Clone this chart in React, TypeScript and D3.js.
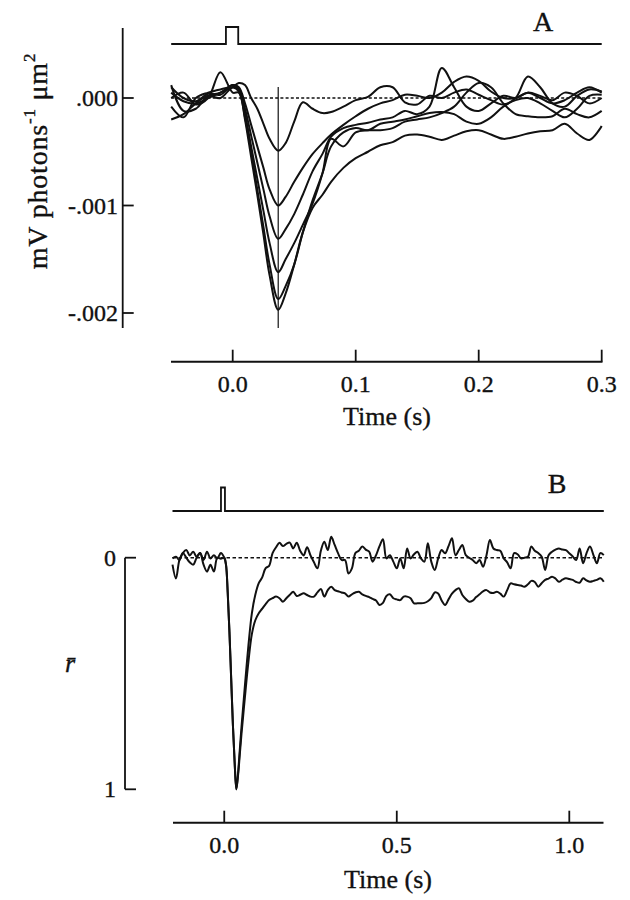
import React from "react";
import * as d3 from "d3";

// ---------- Panel A data (response in units of 1e-3 mV photons^-1 µm^2) ----------
const TIME_A = [-0.05, -0.04, -0.03, -0.02, -0.01, 0, 0.005, 0.01, 0.015, 0.02, 0.025, 0.03, 0.037,
  0.043, 0.05, 0.057, 0.065, 0.073, 0.08, 0.09, 0.1, 0.11, 0.12, 0.13, 0.14, 0.15, 0.16, 0.17, 0.18,
  0.19, 0.2, 0.21, 0.22, 0.23, 0.24, 0.25, 0.26, 0.27, 0.28, 0.29, 0.3];

const A_TRACE1 = [0.05, -0.03, -0.05, 0.0, 0.05, 0.1, 0.14, 0.12, 0.0, -0.1, -0.24, -0.38, -0.49,
  -0.42, -0.22, -0.04, -0.1, -0.14, -0.13, -0.08, -0.02, 0.01, 0.1, 0.1, -0.04, -0.06, 0.02, 0.0, 0.05,
  0.08, 0.03, -0.02, -0.06, 0.0, 0.2, 0.1, -0.05, -0.08, 0.02, 0.08, 0.06];
const A_TRACE2 = [0.12, -0.12, -0.1, 0.02, 0.05, 0.12, 0.1, -0.05, -0.25, -0.45, -0.65, -0.85, -1.0,
  -0.92, -0.78, -0.65, -0.52, -0.42, -0.34, -0.25, -0.17, -0.1, -0.05, -0.02, 0.03, 0.02, 0.0, 0.05, 0.15,
  0.2, 0.16, 0.06, 0.0, 0.0, 0.05, 0.0, -0.05, -0.02, 0.05, 0.1, 0.05];
const A_TRACE3 = [-0.2, -0.15, -0.05, 0.02, 0.0, 0.1, 0.08, -0.1, -0.35, -0.6, -0.85, -1.1, -1.31,
  -1.22, -1.08, -0.9, -0.68, -0.52, -0.36, -0.28, -0.25, -0.23, -0.2, -0.18, -0.12, -0.15, -0.08, 0.28, 0.1,
  -0.08, -0.12, -0.05, 0.02, 0.0, 0.05, 0.02, -0.02, 0.05, 0.02, -0.05, 0.0];
const A_TRACE4 = [0.0, 0.05, -0.06, 0.0, 0.24, 0.05, 0.05, -0.15, -0.45, -0.75, -1.05, -1.35, -1.62,
  -1.5, -1.35, -1.18, -0.98, -0.7, -0.38, -0.45, -0.32, -0.3, -0.3, -0.28, -0.22, -0.2, -0.18, -0.14, -0.08,
  0.05, 0.14, 0.1, -0.05, -0.15, -0.17, -0.18, -0.17, -0.1, -0.15, -0.18, -0.12];
const A_TRACE5 = [-0.08, -0.18, 0.0, 0.05, 0.08, 0.1, 0.06, -0.18, -0.5, -0.85, -1.2, -1.55, -1.87,
  -1.75, -1.55, -1.25, -0.95, -0.7, -0.45, -0.32, -0.28, -0.3, -0.24, -0.22, -0.2, -0.17, -0.14, -0.13, -0.15,
  -0.22, -0.24, -0.18, -0.08, -0.02, 0.0, -0.05, -0.12, -0.18, -0.1, 0.02, 0.03];
const A_TRACE6 = [0.1, 0.0, -0.03, 0.04, 0.03, 0.12, 0.08, -0.2, -0.55, -0.9, -1.27, -1.65, -1.97,
  -1.82, -1.55, -1.25, -1.02, -0.9, -0.78, -0.65, -0.56, -0.5, -0.44, -0.41, -0.35, -0.34, -0.36, -0.39, -0.35,
  -0.31, -0.3, -0.34, -0.38, -0.36, -0.33, -0.31, -0.3, -0.24, -0.33, -0.39, -0.26];
const A_TRACES = [A_TRACE1, A_TRACE2, A_TRACE3, A_TRACE4, A_TRACE5, A_TRACE6];

const A_X_TICKS = [0, 0.1, 0.2, 0.3];
const A_X_TICK_LABELS = ["0.0", "0.1", "0.2", "0.3"];
const A_Y_TICKS = [0, -1, -2];
const A_Y_TICK_LABELS = [".000", "-.001", "-.002"];
const A_PEAK_TIME = 0.037;
const A_STIM_TIME = [-0.05, -0.0055, -0.0055, 0.0045, 0.0045, 0.3];
const A_STIM_LEVEL = [0, 0, 1, 1, 0, 0];

// ---------- Panel B data (normalised response r̄) ----------
const TIME_B = [
  ...d3.range(-15, 0).map((i) => i / 100),
  0, 0.005, 0.01, 0.015, 0.02, 0.025, 0.03, 0.035, 0.04, 0.045, 0.05, 0.055, 0.06,
  ...d3.range(7, 111).map((i) => i / 100),
];

const B_TRACE1 = [
  0.03, 0.09, 0.01, -0.02, -0.033, -0.01, -0.026, -0.004, -0.02, 0.01, -0.026, 0.003, -0.011, 0.003, -0.02,
  0.0, 0.03, 0.15, 0.32, 0.52, 0.72, 0.88, 1.0, 0.93, 0.83, 0.73, 0.64, 0.55,
  0.38, 0.24, 0.16, 0.11, 0.085, 0.045, 0.035, -0.02, -0.045, -0.065,
  -0.05, -0.06, -0.065, -0.04, -0.065, -0.03, -0.01, -0.045, -0.01, 0.02,
  0.046, -0.03, -0.069, -0.033, -0.09, -0.055, -0.019, 0.01, 0.01, 0.068,
  0.046, -0.02, -0.03, -0.048, -0.035, -0.026, 0.017, -0.011, -0.05, -0.08,
  0.003, -0.011, 0.017, 0.046, 0.003, 0.046, -0.04, 0.003, -0.015, -0.026,
  0.003, 0.017, -0.062, 0.017, 0.053, 0.003, -0.033, -0.019, -0.05, -0.084,
  -0.011, -0.033, -0.055, -0.011, 0.0, 0.01, 0.024, 0.01, 0.039, -0.011,
  -0.076, -0.04, -0.033, -0.03, 0.003, 0.02, 0.046, -0.02, -0.015, 0.003,
  0.0, -0.004, -0.048, -0.03, -0.02, -0.004, 0.053, -0.011, -0.026, -0.035,
  -0.04, -0.035, -0.033, -0.019, -0.005, 0.01, -0.04, 0.024, -0.02, -0.048,
  -0.011, 0.024, -0.02, -0.011,
];
const B_TRACE2 = [
  0.003, -0.004, 0.01, -0.02, 0.0, 0.02, 0.03, 0.0, -0.02, 0.03, 0.06, 0.03, 0.06, 0.0, 0.005,
  0.0, 0.03, 0.15, 0.32, 0.52, 0.72, 0.88, 1.0, 0.94, 0.85, 0.76, 0.68, 0.6,
  0.45, 0.33, 0.27, 0.24, 0.22, 0.2, 0.183, 0.175, 0.168, 0.175,
  0.19, 0.175, 0.16, 0.147, 0.165, 0.16, 0.154, 0.161, 0.168, 0.168,
  0.15, 0.135, 0.168, 0.14, 0.125, 0.14, 0.145, 0.15, 0.154, 0.168,
  0.158, 0.15, 0.147, 0.158, 0.165, 0.17, 0.178, 0.185, 0.204, 0.195,
  0.165, 0.158, 0.175, 0.18, 0.183, 0.168, 0.168, 0.175, 0.197, 0.197,
  0.197, 0.195, 0.188, 0.175, 0.15, 0.155, 0.185, 0.204, 0.18, 0.155,
  0.14, 0.132, 0.161, 0.178, 0.19, 0.185, 0.17, 0.158, 0.145, 0.14,
  0.15, 0.152, 0.147, 0.155, 0.168, 0.14, 0.111, 0.115, 0.118, 0.12,
  0.125, 0.115, 0.1, 0.105, 0.125, 0.11, 0.096, 0.09, 0.082, 0.09,
  0.104, 0.095, 0.089, 0.092, 0.096, 0.105, 0.108, 0.089, 0.098, 0.104,
  0.1, 0.096, 0.089, 0.104,
];
const B_TRACES = [B_TRACE1, B_TRACE2];

const B_X_TICKS = [0, 0.5, 1.0];
const B_X_TICK_LABELS = ["0.0", "0.5", "1.0"];
const B_Y_TICKS = [0, 1];
const B_Y_TICK_LABELS = ["0", "1"];
const B_STIM_TIME = [-0.15, -0.0095, -0.0095, 0.002, 0.002, 1.1];
const B_STIM_LEVEL = [0, 0, 1, 1, 0, 0];

const FONT = "'Liberation Serif', 'Times New Roman', serif";
const INK = "#111";
const TXT = { fill: INK, stroke: INK, strokeWidth: 0.35 };

export default function App() {
  // Panel A scales
  const xA = d3.scaleLinear().domain([-0.05, 0.3]).range([171.2, 601.7]);
  const yA = d3.scaleLinear().domain([0, -2]).range([98, 313]);
  const sA = d3.scaleLinear().domain([0, 1]).range([44, 27]);
  // Panel B scales
  const xB = d3.scaleLinear().domain([-0.15, 1.1]).range([172.5, 603.8]);
  const yB = d3.scaleLinear().domain([0, 1]).range([557.7, 789.3]);
  const sB = d3.scaleLinear().domain([0, 1]).range([511, 487.5]);

  const lineA = d3
    .line<number>()
    .x((_, i) => xA(TIME_A[i]))
    .y((d) => yA(d))
    .curve(d3.curveCatmullRom.alpha(0.5));
  const lineB = d3
    .line<number>()
    .x((_, i) => xB(TIME_B[i]))
    .y((d) => yB(d))
    .curve(d3.curveCatmullRom.alpha(0.5));
  const stimA = d3
    .line<number>()
    .x((_, i) => xA(A_STIM_TIME[i]))
    .y((d) => sA(d));
  const stimB = d3
    .line<number>()
    .x((_, i) => xB(B_STIM_TIME[i]))
    .y((d) => sB(d));

  const axisA_x = 122.7;
  const axisA_y = 361.7;
  const axisB_x = 125;
  const axisB_y = 822.7;

  return (
    <svg
      width={630}
      height={900}
      style={{ position: "absolute", left: 0, top: 0, background: "#fff" }}
      fontFamily={FONT}
    >
      <rect x={0} y={0} width={630} height={900} fill="#fff" />

      {/* ================= Panel A ================= */}
      <path d={stimA(A_STIM_LEVEL) || ""} fill="none" stroke={INK} strokeWidth={1.8} />
      <text x={543} y={31} fontSize={28} textAnchor="middle" {...TXT}>A</text>

      {/* y axis */}
      <line x1={axisA_x} x2={axisA_x} y1={28} y2={328} stroke={INK} strokeWidth={1.8} />
      {A_Y_TICKS.map((t, i) => (
        <g key={"ayt" + i}>
          <line x1={axisA_x} x2={axisA_x + 11} y1={yA(t)} y2={yA(t)} stroke={INK} strokeWidth={1.8} />
          <text x={118} y={yA(t)} dy="0.34em" fontSize={24} textAnchor="end" {...TXT}>
            {A_Y_TICK_LABELS[i]}
          </text>
        </g>
      ))}
      <text
        transform="translate(47,161) rotate(-90)"
        fontSize={28}
        letterSpacing={0.8}
        textAnchor="middle"
        {...TXT}
      >
        mV photons
        <tspan fontSize={17} dy={-12}>-1</tspan>
        <tspan dy={12}> μm</tspan>
        <tspan fontSize={17} dy={-12}>2</tspan>
      </text>

      {/* baseline and peak marker */}
      <line
        x1={xA(-0.05)}
        x2={xA(0.3)}
        y1={yA(0)}
        y2={yA(0)}
        stroke={INK}
        strokeWidth={1.5}
        strokeDasharray="3,2.2"
      />
      <line x1={xA(A_PEAK_TIME)} x2={xA(A_PEAK_TIME)} y1={87} y2={328} stroke={INK} strokeWidth={1.2} />

      {A_TRACES.map((tr, i) => (
        <path key={"at" + i} d={lineA(tr) || ""} fill="none" stroke={INK} strokeWidth={2} strokeLinejoin="round" />
      ))}

      {/* x axis */}
      <line x1={171} x2={602.5} y1={axisA_y} y2={axisA_y} stroke={INK} strokeWidth={1.9} />
      {A_X_TICKS.map((t, i) => (
        <g key={"axt" + i}>
          <line x1={xA(t)} x2={xA(t)} y1={axisA_y} y2={axisA_y - 12} stroke={INK} strokeWidth={1.8} />
          <text x={xA(t)} y={392} fontSize={24} textAnchor="middle" {...TXT}>
            {A_X_TICK_LABELS[i]}
          </text>
        </g>
      ))}
      <text x={387} y={425} fontSize={26} textAnchor="middle" {...TXT}>Time (s)</text>

      {/* ================= Panel B ================= */}
      <path d={stimB(B_STIM_LEVEL) || ""} fill="none" stroke={INK} strokeWidth={1.8} />
      <text x={557} y={493} fontSize={28} textAnchor="middle" {...TXT}>B</text>

      {/* y axis */}
      <line x1={axisB_x} x2={axisB_x} y1={yB(0)} y2={yB(1)} stroke={INK} strokeWidth={1.8} />
      {B_Y_TICKS.map((t, i) => (
        <g key={"byt" + i}>
          <line x1={axisB_x} x2={axisB_x + 11} y1={yB(t)} y2={yB(t)} stroke={INK} strokeWidth={1.8} />
          <text x={116} y={yB(t)} dy="0.34em" fontSize={24} textAnchor="end" {...TXT}>
            {B_Y_TICK_LABELS[i]}
          </text>
        </g>
      ))}
      <text x={70} y={672} fontSize={26} fontStyle="italic" textAnchor="middle" {...TXT}>
        r̄
      </text>

      <line
        x1={xB(-0.15)}
        x2={xB(1.1)}
        y1={yB(0)}
        y2={yB(0)}
        stroke={INK}
        strokeWidth={1.5}
        strokeDasharray="3.5,2.5"
      />
      {B_TRACES.map((tr, i) => (
        <path key={"bt" + i} d={lineB(tr) || ""} fill="none" stroke={INK} strokeWidth={2} strokeLinejoin="round" />
      ))}

      {/* x axis */}
      <line x1={173} x2={603.5} y1={axisB_y} y2={axisB_y} stroke={INK} strokeWidth={1.9} />
      {B_X_TICKS.map((t, i) => (
        <g key={"bxt" + i}>
          <line x1={xB(t)} x2={xB(t)} y1={axisB_y} y2={axisB_y - 12} stroke={INK} strokeWidth={1.8} />
          <text x={xB(t)} y={853} fontSize={24} textAnchor="middle" {...TXT}>
            {B_X_TICK_LABELS[i]}
          </text>
        </g>
      ))}
      <text x={388} y={888} fontSize={26} textAnchor="middle" {...TXT}>Time (s)</text>
    </svg>
  );
}
